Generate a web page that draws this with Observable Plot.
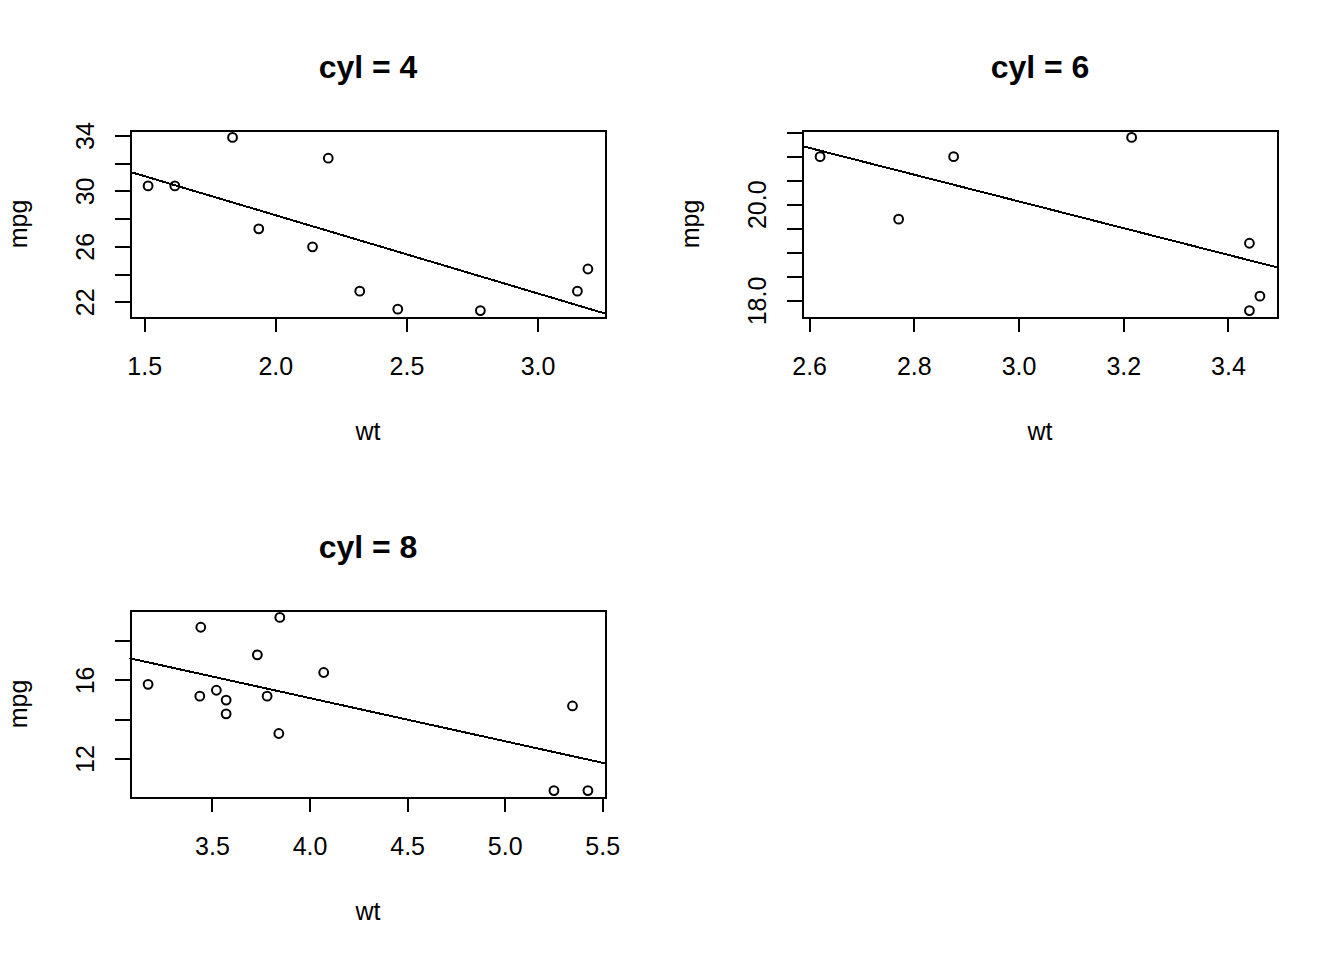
<!DOCTYPE html>
<html><head><meta charset="utf-8">
<script src="https://cdn.jsdelivr.net/npm/d3@7"></script>
<script src="https://cdn.jsdelivr.net/npm/@observablehq/plot@0.6"></script>
<style>
body{margin:0;background:#fff;}
#wrap{position:relative;width:1344px;height:960px;background:#fff;}
.panel{position:absolute;width:672px;height:480px;}
.panel svg path, .panel svg rect, .panel svg line{shape-rendering:crispEdges;}
</style></head><body><div id="wrap"></div>
<script>
// mtcars split by cyl
const wt4  = [2.320, 3.190, 3.150, 2.200, 1.615, 1.835, 2.465, 1.935, 2.140, 1.513, 2.780];
const mpg4 = [22.8, 24.4, 22.8, 32.4, 30.4, 33.9, 21.5, 27.3, 26.0, 30.4, 21.4];
const wt6  = [2.620, 2.875, 3.215, 3.460, 3.440, 3.440, 2.770];
const mpg6 = [21.0, 21.0, 21.4, 18.1, 19.2, 17.8, 19.7];
const wt8  = [3.440, 3.570, 4.070, 3.730, 3.780, 5.250, 5.424, 5.345, 3.520, 3.435, 3.840, 3.845, 3.170, 3.570];
const mpg8 = [18.7, 14.3, 16.4, 17.3, 15.2, 10.4, 10.4, 14.7, 15.5, 15.2, 13.3, 19.2, 15.8, 15.0];

const titles = ["cyl = 4", "cyl = 6", "cyl = 8"];
const xLabels4 = ["1.5", "2.0", "2.5", "3.0"];
const yTicks4  = [22, 24, 26, 28, 30, 32, 34];
const yLabels4 = ["22", "26", "30", "34"];
const xLabels6 = ["2.6", "2.8", "3.0", "3.2", "3.4"];
const yTicks6  = [18, 18.5, 19, 19.5, 20, 20.5, 21, 21.5];
const yLabels6 = ["18.0", "20.0"];
const xLabels8 = ["3.5", "4.0", "4.5", "5.0", "5.5"];
const yTicks8  = [12, 14, 16, 18];
const yLabels8 = ["12", "16"];
const xTitle = "wt", yTitle = "mpg";

const FONT = "'Liberation Sans', Arial, Helvetica, sans-serif";

function ext(a) {
  const [lo, hi] = d3.extent(a);
  const r = hi - lo;
  return [lo - 0.04 * r, hi + 0.04 * r];
}

function panel(title, wt, mpg, xLabels, yTicks, yLabels) {
  const xd = ext(wt), yd = ext(mpg);
  const pts = wt.map((w, i) => ({wt: w, mpg: mpg[i]}));
  const mx = d3.mean(wt), my = d3.mean(mpg);
  const b = d3.sum(wt, (w, i) => (w - mx) * (mpg[i] - my)) / d3.sum(wt, w => (w - mx) ** 2);
  const a = my - b * mx;
  const fit = xd.map(x => ({wt: x, mpg: a + b * x}));
  return Plot.plot({
    width: 672, height: 480,
    marginLeft: 130, marginRight: 67, marginTop: 130, marginBottom: 163,
    style: {fontFamily: FONT, background: "transparent", color: "#000", overflow: "visible"},
    x: {domain: xd}, y: {domain: yd},
    marks: [
      Plot.axisX({ticks: xLabels.map(Number), tickSize: 15, tickFormat: () => "", strokeWidth: 2, label: null}),
      Plot.axisY({ticks: yTicks, tickSize: 15, tickFormat: () => "", strokeWidth: 2, label: null}),
      Plot.text(xLabels, {x: d => +d, text: d => d, frameAnchor: "bottom", dy: 57.5, lineAnchor: "bottom", fontSize: 25, fill: "#000"}),
      Plot.text(yLabels, {y: d => +d, text: d => d, frameAnchor: "left", dx: -36.7, rotate: -90, textAnchor: "middle", lineAnchor: "bottom", fontSize: 25, fill: "#000"}),
      Plot.frame({stroke: "#000", strokeWidth: 2}),
      Plot.line(fit, {x: "wt", y: "mpg", stroke: "#000", strokeWidth: 2}),
      Plot.dot(pts, {x: "wt", y: "mpg", r: 4.4, stroke: "#000", strokeWidth: 2, fill: "none"}),
      Plot.text([title], {text: d => d, frameAnchor: "top", dy: -52.7, lineAnchor: "bottom", fontSize: 32, fontWeight: "bold", fill: "#000"}),
      Plot.text([xTitle], {text: d => d, frameAnchor: "bottom", dy: 122.5, lineAnchor: "bottom", fontSize: 25, fill: "#000"}),
      Plot.text([yTitle], {text: d => d, frameAnchor: "left", dx: -104, rotate: -90, textAnchor: "middle", lineAnchor: "bottom", fontSize: 25, fill: "#000"})
    ]
  });
}

const wrap = document.getElementById("wrap");
const specs = [
  [titles[0], wt4, mpg4, xLabels4, yTicks4, yLabels4, 0, 0],
  [titles[1], wt6, mpg6, xLabels6, yTicks6, yLabels6, 672, 0],
  [titles[2], wt8, mpg8, xLabels8, yTicks8, yLabels8, 0, 480]
];
for (const [t, w, m, xl, yt, yl, left, top] of specs) {
  const div = document.createElement("div");
  div.className = "panel";
  div.style.left = left + "px";
  div.style.top = top + "px";
  div.appendChild(panel(t, w, m, xl, yt, yl));
  wrap.appendChild(div);
}
</script></body></html>
